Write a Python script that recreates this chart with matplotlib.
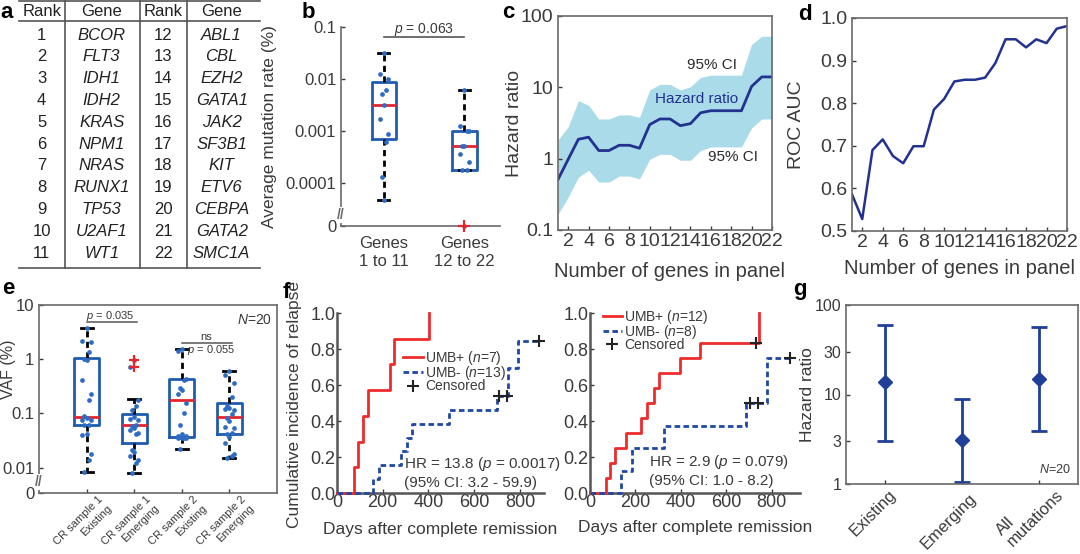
import numpy as np
import matplotlib
matplotlib.use('Agg')
import matplotlib.pyplot as plt
from matplotlib.lines import Line2D
from matplotlib.transforms import ScaledTranslation

plt.rcParams['font.family'] = ['Liberation Sans', 'DejaVu Sans']
plt.rcParams['mathtext.fontset'] = 'custom'
plt.rcParams['mathtext.rm'] = 'Liberation Sans'
plt.rcParams['mathtext.it'] = 'Liberation Sans:italic'
plt.rcParams['axes.linewidth'] = 1.2

TXT = '#3a3a3a'
GRAY = '#6a6a6a'
BOXBLUE = '#1f5cb0'
DOTBLUE = '#2e6cc4'
RED = '#e8242b'
NAVY = '#23318f'
CIFILL = '#a9dbe9'
KMRED = '#ee2b2b'
KMBLUE = '#1f48a6'
GBLUE = '#1f3f99'

# ---------------- data ----------------
# a: gene ranking table
rank_left = [1, 2, 3, 4, 5, 6, 7, 8, 9, 10, 11]
genes_left = ['BCOR', 'FLT3', 'IDH1', 'IDH2', 'KRAS', 'NPM1', 'NRAS', 'RUNX1', 'TP53', 'U2AF1', 'WT1']
rank_right = [12, 13, 14, 15, 16, 17, 18, 19, 20, 21, 22]
genes_right = ['ABL1', 'CBL', 'EZH2', 'GATA1', 'JAK2', 'SF3B1', 'KIT', 'ETV6', 'CEBPA', 'GATA2', 'SMC1A']

# b: average mutation rate (%)
b_groups = ['Genes\n1 to 11', 'Genes\n12 to 22']
rate_1to11 = [0.032, 0.0126, 0.010, 0.006, 0.0052, 0.0032, 0.0017, 0.00087, 0.0006, 0.00013, 0.000047]
rate_12to22 = [0.0062, 0.00126, 0.0010, 0.0010, 0.00051, 0.00051, 0.00036, 0.00025, 0.00018, 0.00018, 0.0]
b_q1 = [0.0007, 0.00018]
b_med = [0.0032, 0.00051]
b_q3 = [0.0087, 0.0010]
b_lo = [0.000047, 0.00018]
b_hi = [0.032, 0.0062]
b_fliers = [[], [0.0]]

# c: hazard ratio vs panel size
n_genes = list(range(1, 23))
hr_panel = [0.51, 0.98, 1.87, 2.0, 1.3, 1.3, 1.54, 1.54, 1.4, 3.0, 3.6, 3.6, 2.9, 3.1,
            4.4, 4.7, 4.7, 4.7, 4.7, 10.3, 14, 14]
hr_lo = [0.166, 0.29, 0.55, 0.69, 0.47, 0.47, 0.57, 0.57, 0.52, 0.98, 1.15, 1.15, 0.95, 0.95,
         1.3, 1.46, 1.46, 1.46, 1.46, 2.7, 3.6, 3.6]
hr_hi = [1.83, 2.8, 6.5, 5.6, 3.6, 3.6, 4.1, 4.1, 3.8, 9.2, 11, 11, 9.2, 10.2,
         13.8, 14.8, 14.8, 14.8, 14.8, 40, 52, 52]

# d: ROC AUC vs panel size
roc_auc = [0.586, 0.528, 0.69, 0.715, 0.676, 0.659, 0.699, 0.699, 0.785, 0.81, 0.851,
           0.855, 0.855, 0.86, 0.894, 0.95, 0.95, 0.931, 0.95, 0.941, 0.975, 0.981]

# e: VAF (%)
e_groups = ['CR sample 1\nExisting', 'CR sample 1\nEmerging', 'CR sample 2\nExisting', 'CR sample 2\nEmerging']
vaf_cr1_exist = [3.69, 2.17, 2.08, 1.36, 0.99, 0.95, 0.42, 0.23, 0.18, 0.090, 0.082, 0.076, 0.074,
                 0.062, 0.060, 0.042, 0.040, 0.0175, 0.014, 0.0083]
vaf_cr1_emerg = [0.96, 0.72, 0.18, 0.135, 0.113, 0.084, 0.078, 0.074, 0.062, 0.059, 0.054, 0.050,
                 0.043, 0.042, 0.021, 0.019, 0.016, 0.014, 0.012, 0.0079]
vaf_cr2_exist = [1.52, 1.40, 0.43, 0.41, 0.29, 0.27, 0.23, 0.155, 0.101, 0.060, 0.041, 0.039,
                 0.038, 0.037, 0.037, 0.035, 0.035, 0.035, 0.035, 0.022]
vaf_cr2_emerg = [0.60, 0.50, 0.37, 0.20, 0.135, 0.126, 0.12, 0.113, 0.098, 0.082, 0.071, 0.057,
                 0.054, 0.043, 0.042, 0.037, 0.028, 0.018, 0.016, 0.015]
e_q1 = [0.060, 0.028, 0.037, 0.041]
e_med = [0.087, 0.062, 0.18, 0.086]
e_q3 = [1.03, 0.098, 0.43, 0.155]
e_lo = [0.0083, 0.0079, 0.022, 0.015]
e_hi = [3.7, 0.184, 1.52, 0.60]
e_fliers = [[], [0.96, 0.72], [], []]

# f: cumulative incidence of relapse (step curves)
f1_pos_days = [0, 73, 90, 112, 137, 232, 251, 404]
f1_pos_cir = [0, 0.143, 0.286, 0.429, 0.571, 0.714, 0.857, 1.0]
f1_neg_days = [0, 159, 185, 280, 306, 328, 488, 698, 746, 790, 881]
f1_neg_cir = [0, 0.077, 0.154, 0.231, 0.308, 0.385, 0.462, 0.538, 0.692, 0.846, 0.846]
f1_cens_days = [710, 742, 881]
f1_cens_cir = [0.538, 0.538, 0.846]

f2_pos_days = [0, 70, 87, 110, 157, 225, 252, 281, 305, 397, 484, 744]
f2_pos_cir = [0, 0.083, 0.167, 0.25, 0.333, 0.417, 0.5, 0.583, 0.667, 0.75, 0.833, 1.0]
f2_neg_days = [0, 135, 186, 324, 688, 781, 879]
f2_neg_cir = [0, 0.125, 0.25, 0.375, 0.5, 0.75, 0.75]
f2_cens_days = [732, 703, 741, 879]
f2_cens_cir = [0.833, 0.5, 0.5, 0.75]

# g: hazard ratios
g_groups = ['Existing', 'Emerging', 'All\nmutations']
g_hr = [13.8, 3.1, 15.0]
g_lo = [3.0, 1.06, 3.9]
g_hi = [59.9, 9.0, 57.0]


# ---------------- helpers ----------------
W, H = 1080, 554


def rect(x0, y0, x1, y1):
    return [x0 / W, 1 - y1 / H, (x1 - x0) / W, (y1 - y0) / H]


def floor_log(floor):
    lo = 10.0 ** floor
    return (lambda v: np.log10(np.maximum(v, lo)), lambda y: 10.0 ** y)


def stats(q1, med, q3, lo, hi, fl):
    return [dict(q1=a, med=m, q3=c, whislo=l, whishi=h, fliers=f)
            for a, m, c, l, h, f in zip(q1, med, q3, lo, hi, fl)]


def draw_boxes(ax, st, width, capw, msize):
    art = ax.bxp(st, positions=range(1, len(st) + 1), widths=width, capwidths=capw,
                 manage_ticks=False,
                 boxprops=dict(color=BOXBLUE, lw=2),
                 medianprops=dict(color=RED, lw=2),
                 whiskerprops=dict(color='k', lw=2, ls=(0, (2.2, 1.6))),
                 capprops=dict(color='k', lw=2),
                 flierprops=dict(marker='+', markeredgecolor=RED, markersize=msize,
                                 mew=1.6, linestyle='none'))
    for fl in art['fliers']:
        fl.set_clip_on(False)
        fl.set_zorder(5)


def jitter_dots(ax, pos, vals, spread):
    offs = np.resize([0, -1, 1, 0.5, -0.5], len(vals)) * spread
    ax.plot(pos + offs, vals, 'o', color=DOTBLUE, ms=3.4, mew=0, clip_on=False, zorder=4)


def axis_break(ax, yfrac):
    ax.text(0, yfrac, '//', transform=ax.transAxes, ha='center', va='center',
            fontsize=10, color=GRAY, fontweight='bold',
            bbox=dict(fc='white', ec='none', pad=0.5), zorder=6)


def style(ax, size, color=GRAY):
    ax.tick_params(direction='in', labelsize=size, colors=TXT, length=3, width=1)
    for s in ax.spines.values():
        s.set_color(color)


def shift_labels(ax, offsets):
    # offsets in pixels (right, down)
    for lbl, (dx, dy) in zip(ax.get_xticklabels(), offsets):
        lbl.set_transform(lbl.get_transform() +
                          ScaledTranslation(dx / 100, -dy / 100, fig.dpi_scale_trans))


fig = plt.figure(figsize=(10.8, 5.54), dpi=100)

# ---------------- a ----------------
ax_a = fig.add_axes(rect(0, 0, 270, 275))
ax_a.set_xlim(0, 270)
ax_a.set_ylim(275, 0)
ax_a.axis('off')
for yy in [1, 20.7, 268]:
    ax_a.plot([19, 260], [yy, yy], color='#555555', lw=1.2)
for xx in [65, 140, 187]:
    ax_a.plot([xx, xx], [1, 268], color='#555555', lw=1.2)
cols = [41.7, 101.7, 163.3, 221.7]
for cx, head in zip(cols, ['Rank', 'Gene', 'Rank', 'Gene']):
    ax_a.text(cx, 12, head, ha='center', va='center', fontsize=12, color='#222222')
for i in range(len(rank_left)):
    yy = 35 + i * 21.83
    ax_a.text(cols[0], yy, str(rank_left[i]), ha='center', va='center', fontsize=12, color='#222222')
    ax_a.text(cols[1], yy, genes_left[i], ha='center', va='center', fontsize=12,
              style='italic', color='#222222')
    ax_a.text(cols[2], yy, str(rank_right[i]), ha='center', va='center', fontsize=12, color='#222222')
    ax_a.text(cols[3], yy, genes_right[i], ha='center', va='center', fontsize=12,
              style='italic', color='#222222')

# ---------------- b ----------------
ax_b = fig.add_axes(rect(341, 27, 500, 226))
ax_b.set_yscale('function', functions=floor_log(-4.83))
draw_boxes(ax_b, stats(b_q1, b_med, b_q3, b_lo, b_hi, b_fliers), 0.3, 0.14, 8)
jitter_dots(ax_b, 1, rate_1to11, 0.05)
jitter_dots(ax_b, 2, rate_12to22, 0.05)
ax_b.set_xlim(0.47, 2.44)
ax_b.set_ylim(0, 0.1)
ax_b.set_yticks([0, 1e-4, 1e-3, 1e-2, 0.1])
ax_b.set_yticklabels(['0', '0.0001', '0.001', '0.01', '0.1'])
ax_b.yaxis.set_minor_locator(matplotlib.ticker.NullLocator())
ax_b.set_xticks([1, 2])
ax_b.set_xticklabels(b_groups, linespacing=1.25)
ax_b.spines['top'].set_visible(False)
ax_b.spines['right'].set_visible(False)
style(ax_b, 12)
ax_b.tick_params(axis='x', length=0, pad=7)
ax_b.set_ylabel('Average mutation rate (%)', fontsize=12.5, color=TXT)
ax_b.yaxis.set_label_coords(-0.40, 0.5)
ax_b.plot([1, 2], [0.065, 0.065], color='#555555', lw=1.2)
ax_b.text(1.5, 0.088, r'$\it{p}$ = 0.063', ha='center', va='center', fontsize=10, color=TXT)
axis_break(ax_b, 0.055)

# ---------------- c ----------------
ax_c = fig.add_axes(rect(558, 16, 772, 230))
ax_c.fill_between(n_genes, hr_lo, hr_hi, color=CIFILL, lw=0)
ax_c.plot(n_genes, hr_panel, color=NAVY, lw=2)
ax_c.set_yscale('log')
ax_c.set_xlim(1, 22)
ax_c.set_ylim(0.1, 100)
ax_c.set_yticks([0.1, 1, 10, 100])
ax_c.set_yticklabels(['0.1', '1', '10', '100'])
ax_c.yaxis.set_minor_locator(matplotlib.ticker.NullLocator())
ax_c.set_xticks(range(2, 23, 2))
style(ax_c, 14)
ax_c.tick_params(axis='x', pad=2)
ax_c.set_ylabel('Hazard ratio', fontsize=14, color=TXT)
ax_c.yaxis.set_label_coords(-0.165, 0.5)
ax_c.set_xlabel('Number of genes in panel', fontsize=14.5, color=TXT)
ax_c.xaxis.set_label_coords(0.52, -0.15)
ax_c.text(16.1, 20.6, '95% CI', ha='center', va='center', fontsize=11, color='#2a2a2a')
ax_c.text(14.6, 6.9, 'Hazard ratio', ha='center', va='center', fontsize=11, color=NAVY)
ax_c.text(18.2, 1.05, '95% CI', ha='center', va='center', fontsize=11, color='#2a2a2a')

# ---------------- d ----------------
ax_d = fig.add_axes(rect(852, 18, 1067, 231))
ax_d.plot(n_genes, roc_auc, color=NAVY, lw=1.8)
ax_d.set_xlim(1, 22)
ax_d.set_ylim(0.5, 1.0)
ax_d.set_yticks([0.5, 0.6, 0.7, 0.8, 0.9, 1.0])
ax_d.set_yticklabels(['0.5', '0.6', '0.7', '0.8', '0.9', '1.0'])
ax_d.set_xticks(range(2, 23, 2))
style(ax_d, 14)
ax_d.tick_params(axis='x', pad=2)
ax_d.set_ylabel('ROC AUC', fontsize=14, color=TXT)
ax_d.yaxis.set_label_coords(-0.22, 0.5)
ax_d.set_xlabel('Number of genes in panel', fontsize=14.5, color=TXT)
ax_d.xaxis.set_label_coords(0.5, -0.13)

# ---------------- e ----------------
ax_e = fig.add_axes(rect(39, 305, 277, 493))
ax_e.set_yscale('function', functions=floor_log(-2.47))
draw_boxes(ax_e, stats(e_q1, e_med, e_q3, e_lo, e_hi, e_fliers), 0.53, 0.25, 7)
for k, vals in enumerate([vaf_cr1_exist, vaf_cr1_emerg, vaf_cr2_exist, vaf_cr2_emerg]):
    jitter_dots(ax_e, k + 1, vals, 0.09)
ax_e.set_xlim(0, 5)
ax_e.set_ylim(0, 10)
ax_e.set_yticks([0, 0.01, 0.1, 1, 10])
ax_e.set_yticklabels(['0', '0.01', '0.1', '1', '10'])
ax_e.yaxis.set_minor_locator(matplotlib.ticker.NullLocator())
ax_e.set_xticks([1, 2, 3, 4])
style(ax_e, 12)
ax_e.tick_params(axis='x', pad=0)
ax_e.set_xticklabels(e_groups, rotation=45, ha='right', va='center', rotation_mode='anchor',
                     fontsize=8, multialignment='right', linespacing=1.35)
shift_labels(ax_e, [(19, 9)] * 4)
ax_e.set_ylabel('VAF (%)', fontsize=11.5, color=TXT)
ax_e.yaxis.set_label_coords(-0.095, 0.66)
ax_e.plot([1, 2.05], [4.76, 4.76], color='#555555', lw=1.1)
ax_e.text(1.5, 6.4, r'$\it{p}$ = 0.035', ha='center', va='center', fontsize=8, color=TXT)
ax_e.plot([3.0, 4.05], [1.97, 1.97], color='#555555', lw=1.1)
ax_e.text(3.52, 2.55, 'ns', ha='center', va='center', fontsize=8, color=TXT)
ax_e.text(3.62, 1.45, r'$\it{p}$ = 0.055', ha='center', va='center', fontsize=8, color=TXT)
ax_e.text(0.98, 0.92, r'$\it{N}$=20', transform=ax_e.transAxes, ha='right', va='center',
          fontsize=10, color=TXT)
axis_break(ax_e, 0.058)


# ---------------- f ----------------
def km_panel(ax, pos_d, pos_c, neg_d, neg_c, cens_d, cens_c, xmax):
    ax.step(pos_d, pos_c, where='post', color=KMRED, lw=2, clip_on=False, zorder=3)
    ax.step(neg_d, neg_c, where='post', color=KMBLUE, lw=2, ls=(0, (2.0, 1.2)),
            clip_on=False, zorder=3)
    ax.plot(cens_d, cens_c, '+', color='#222222', ms=8, mew=1.5, zorder=4)
    ax.set_xlim(0, xmax)
    ax.set_ylim(0, 1.0)
    ax.set_xticks([0, 200, 400, 600, 800])
    ax.set_yticks([0, 0.2, 0.4, 0.6, 0.8, 1.0])
    ax.set_yticklabels(['0.0', '0.2', '0.4', '0.6', '0.8', '1.0'])
    ax.spines['top'].set_visible(False)
    ax.spines['right'].set_visible(False)
    style(ax, 13, '#555555')
    for s in ['left', 'bottom']:
        ax.spines[s].set_linewidth(1.8)
    ax.tick_params(pad=1)
    return [Line2D([], [], color=KMRED, lw=2),
            Line2D([], [], color=KMBLUE, lw=2, ls=(0, (2.0, 1.2))),
            Line2D([], [], color='#222222', marker='+', ls='none', ms=8, mew=1.5)]


leg_kw = dict(loc='upper left', frameon=False, fontsize=10, handlelength=1.4,
              handletextpad=0.15, labelspacing=-0.2, borderpad=0, borderaxespad=0,
              labelcolor=TXT)

ax_f1 = fig.add_axes(rect(337, 313, 544, 493))
h = km_panel(ax_f1, f1_pos_days, f1_pos_cir, f1_neg_days, f1_neg_cir,
             f1_cens_days, f1_cens_cir, 905)
ax_f1.legend(h, [r'UMB+ ($\it{n}$=7)', r'UMB- ($\it{n}$=13)', 'Censored'],
             bbox_to_anchor=(0.32, 0.80), **leg_kw)
ax_f1.text(294, 0.163, r'HR = 13.8 ($\it{p}$ = 0.0017)', ha='left', va='center',
           fontsize=11, color=TXT)
ax_f1.text(294, 0.057, '(95% CI: 3.2 - 59.9)', ha='left', va='center', fontsize=11, color=TXT)
ax_f1.set_ylabel('Cumulative incidence of relapse', fontsize=12.5, color=TXT)
ax_f1.yaxis.set_label_coords(-0.17, 0.49)
ax_f1.set_xlabel('Days after complete remission', fontsize=12.5, color=TXT)
ax_f1.xaxis.set_label_coords(0.5, -0.16)

ax_f2 = fig.add_axes(rect(590, 313, 800, 493))
h = km_panel(ax_f2, f2_pos_days, f2_pos_cir, f2_neg_days, f2_neg_cir,
             f2_cens_days, f2_cens_cir, 925)
ax_f2.legend(h, [r'UMB+ ($\it{n}$=12)', r'UMB- ($\it{n}$=8)', 'Censored'],
             bbox_to_anchor=(0.06, 1.03), **leg_kw)
ax_f2.text(259, 0.17, r'HR = 2.9 ($\it{p}$ = 0.079)', ha='left', va='center',
           fontsize=11, color=TXT)
ax_f2.text(259, 0.064, '(95% CI: 1.0 - 8.2)', ha='left', va='center', fontsize=11, color=TXT)
ax_f2.set_xlabel('Days after complete remission', fontsize=12.5, color=TXT)
ax_f2.xaxis.set_label_coords(0.5, -0.15)

# ---------------- g ----------------
ax_g = fig.add_axes(rect(846, 305, 1078, 484))
gx = np.arange(1, len(g_groups) + 1)
ax_g.errorbar(gx, g_hr, yerr=[np.subtract(g_hr, g_lo), np.subtract(g_hi, g_hr)],
              fmt='D', color=GBLUE, ms=7, lw=2, capsize=6, capthick=2, clip_on=False)
ax_g.set_yscale('log')
ax_g.set_xlim(0.5, 3.5)
ax_g.set_ylim(1, 100)
ax_g.set_yticks([1, 3, 10, 30, 100])
ax_g.set_yticklabels(['1', '3', '10', '30', '100'])
ax_g.yaxis.set_minor_locator(matplotlib.ticker.NullLocator())
ax_g.set_xticks(gx)
style(ax_g, 11.5)
ax_g.tick_params(axis='x', pad=0)
ax_g.set_xticklabels(g_groups, rotation=45, ha='right', va='center', rotation_mode='anchor',
                     fontsize=12, multialignment='left', linespacing=1.0)
shift_labels(ax_g, [(9, 8), (12, 12), (16, 3)])
ax_g.set_ylabel('Hazard ratio', fontsize=12.5, color=TXT)
ax_g.yaxis.set_label_coords(-0.135, 0.5)
ax_g.text(0.97, 0.08, r'$\it{N}$=20', transform=ax_g.transAxes, ha='right', va='center',
          fontsize=9, color=TXT)

# panel letters
for letter, px, py in [('a', 7, 13), ('b', 308, 12), ('c', 508, 13), ('d', 805, 15),
                       ('e', 8, 288), ('f', 286, 293), ('g', 800, 290)]:
    fig.text(px / W, 1 - py / H, letter, ha='center', va='center', fontsize=16,
             fontweight='bold', color='black')

fig.savefig('out.png', dpi=100)
